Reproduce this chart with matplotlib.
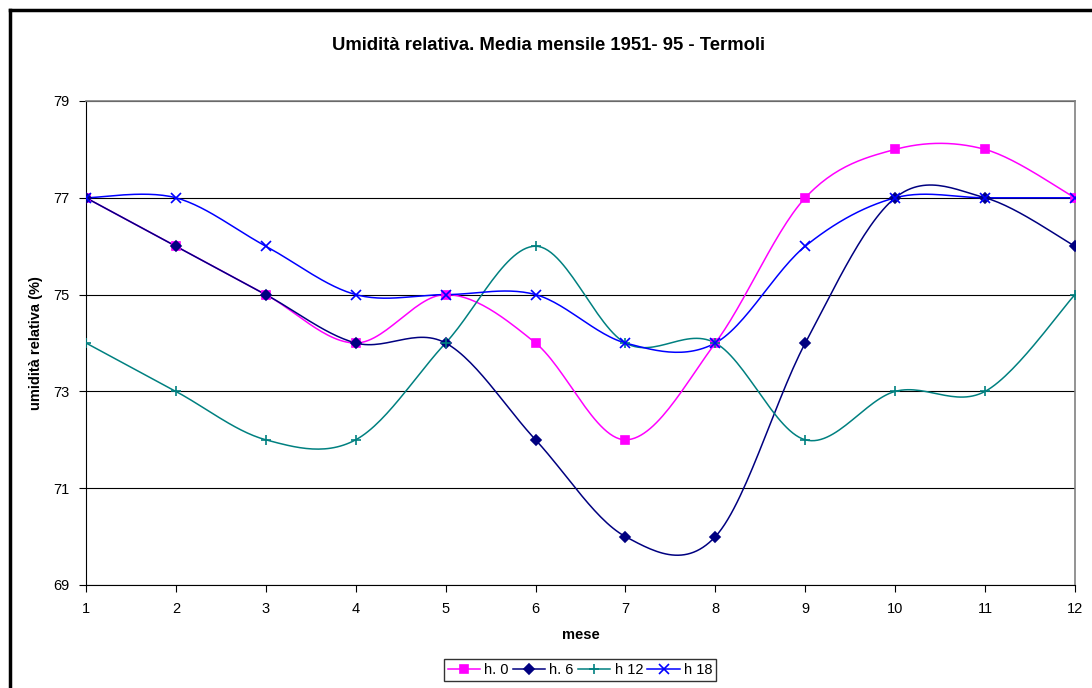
import numpy as np
import matplotlib
matplotlib.use("Agg")
import matplotlib.pyplot as plt
from matplotlib.lines import Line2D

plt.rcParams['font.family'] = ['Liberation Sans', 'DejaVu Sans']

# data
mesi = [1, 2, 3, 4, 5, 6, 7, 8, 9, 10, 11, 12]
h0 = [77, 76, 75, 74, 75, 74, 72, 74, 77, 78, 78, 77]
h6 = [77, 76, 75, 74, 74, 72, 70, 70, 74, 77, 77, 76]
h12 = [74, 73, 72, 72, 74, 76, 74, 74, 72, 73, 73, 75]
h18 = [77, 77, 76, 75, 75, 75, 74, 74, 76, 77, 77, 77]

labels = ['h. 0', 'h. 6', 'h 12', 'h 18']
colors = ['#FF00FF', '#000080', '#008080', '#0000FF']
markers = ['s', 'D', '+', 'x']
msizes = [6, 5, 7, 7]


# Excel-like smoothed line (Catmull-Rom bezier between the points)
def smooth(x, y, n=30):
    x = np.asarray(x, float)
    y = np.asarray(y, float)
    px = np.concatenate([[x[0]], x, [x[-1]]])
    py = np.concatenate([[y[0]], y, [y[-1]]])
    xs, ys = [], []
    t = np.linspace(0, 1, n)
    for i in range(1, len(px) - 2):
        p0 = np.array([px[i], py[i]])
        p3 = np.array([px[i + 1], py[i + 1]])
        p1 = p0 + (np.array([px[i + 1], py[i + 1]]) - np.array([px[i - 1], py[i - 1]])) / 6
        p2 = p3 - (np.array([px[i + 2], py[i + 2]]) - np.array([px[i], py[i]])) / 6
        b = ((1 - t) ** 3)[:, None] * p0 + (3 * (1 - t) ** 2 * t)[:, None] * p1 \
            + (3 * (1 - t) * t ** 2)[:, None] * p2 + (t ** 3)[:, None] * p3
        xs.extend(b[:, 0])
        ys.extend(b[:, 1])
    return xs, ys


fig = plt.figure(figsize=(10.92, 6.88), dpi=100)
ax = fig.add_axes([86 / 1092, 1 - 585 / 688, (1075 - 86) / 1092, (585 - 101) / 688])

handles = []
for serie, lab, col, mk, ms in zip([h0, h6, h12, h18], labels, colors, markers, msizes):
    sx, sy = smooth(mesi, serie)
    ax.plot(sx, sy, color=col, linewidth=1.1, zorder=3)
    ax.plot(mesi, serie, linestyle='none', marker=mk, markersize=ms, color=col,
            markeredgewidth=1.2, zorder=4)
    handles.append(Line2D([0], [0], color=col, marker=mk, markersize=ms,
                          markeredgewidth=1.2, linewidth=1.1))

ax.set_xlim(1, 12)
ax.set_ylim(69, 79)
ax.set_xticks(mesi)
ax.set_yticks([69, 71, 73, 75, 77, 79])
ax.tick_params(direction='out', length=5, labelsize=10.5, pad=7, colors='black')
ax.grid(axis='y', color='black', linewidth=0.8)
ax.set_axisbelow(True)
for s in ['top', 'right']:
    ax.spines[s].set_color('#808080')
    ax.spines[s].set_linewidth(1.2)
ax.spines['left'].set_color('black')
ax.spines['bottom'].set_color('black')

ax.set_xlabel('mese', fontsize=10.5, fontweight='bold', labelpad=9)
ax.set_ylabel('umidità relativa (%)', fontsize=10.5, fontweight='bold', labelpad=7)
fig.text(549 / 1092, 1 - 46 / 688, 'Umidità relativa. Media mensile 1951- 95 - Termoli',
         ha='center', va='center', fontsize=13.3, fontweight='bold')

leg = fig.legend(handles, labels, loc='center', bbox_to_anchor=(580 / 1092, 1 - 670 / 688),
                 ncol=4, fontsize=10.5, frameon=True, fancybox=False, handlelength=2.2,
                 columnspacing=0.3, handletextpad=0.3, borderpad=0.25)
leg.get_frame().set_edgecolor('black')
leg.get_frame().set_linewidth(1.0)

# outer frame of the chart
fig.add_artist(Line2D([10 / 1092, 10 / 1092], [0, 1 - 10 / 688], color='black', linewidth=2.5))
fig.add_artist(Line2D([10 / 1092, 1], [1 - 10 / 688, 1 - 10 / 688], color='black', linewidth=2.5))

fig.savefig('out.png', dpi=100)
